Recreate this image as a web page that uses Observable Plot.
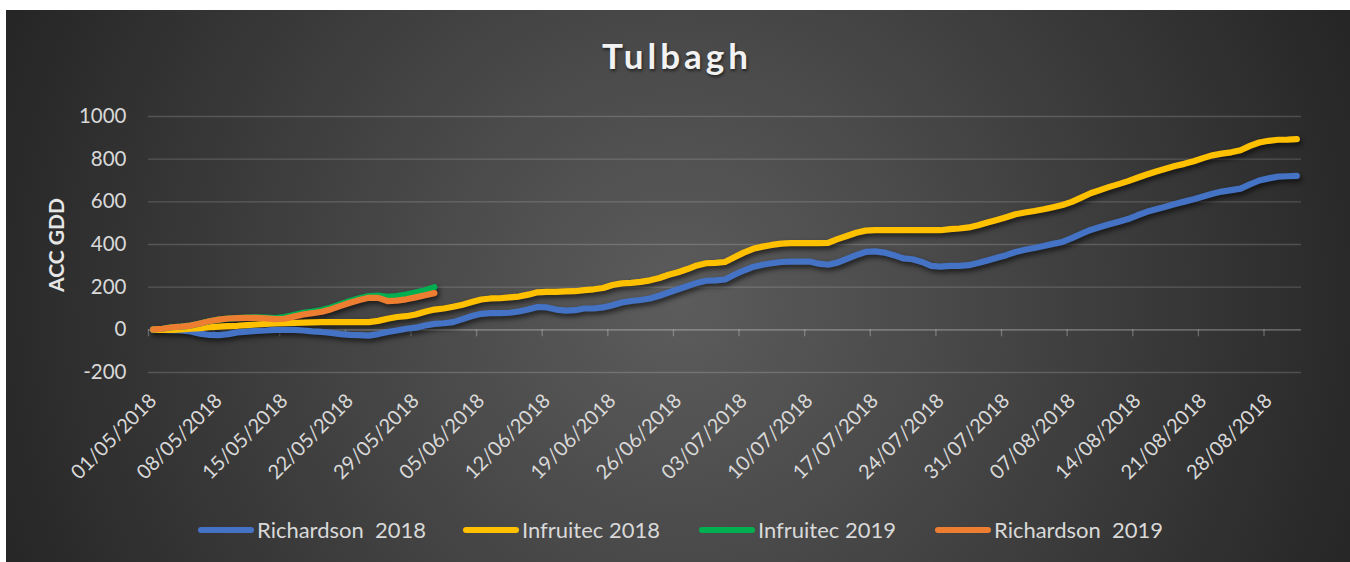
<!DOCTYPE html>
<html>
<head>
<meta charset="utf-8">
<script src="https://cdn.jsdelivr.net/npm/d3@7"></script>
<script src="https://cdn.jsdelivr.net/npm/@observablehq/plot@0.6"></script>
<style>
  body { margin: 0; background: #ffffff; }
  #page { position: relative; width: 1350px; height: 562px; overflow: hidden; background: #ffffff; font-family: Lato, "Open Sans", sans-serif; }
  #panel { position: absolute; left: 6px; top: 10px; width: 1344px; height: 552px;
    background: radial-gradient(circle 720px at 50% 53%, #5c5c5c 0%, #4a4a4a 35%, #262626 100%); }
  #chart { position: absolute; left: 0; top: 0; }
  #title { position: absolute; left: 0; width: 1350px; top: 38px; text-align: center; font-size: 35px; line-height: 35px;
    font-weight: 700; letter-spacing: 4px; text-indent: 4px; color: #f2f2f2; text-shadow: 1px 2px 3px rgba(0,0,0,0.55); }
  #ytitle { position: absolute; left: 55px; top: 245px; transform: translate(-50%, -50%) rotate(-90deg); font-size: 21px;
    font-weight: 700; color: #e6e6e6; white-space: nowrap; }
  .item { position: absolute; top: 519px; height: 22px; display: flex; align-items: center; font-size: 22px; line-height: 22px;
    color: #d9d9d9; white-space: pre; }
  .sw { display: inline-block; width: 56px; height: 6px; border-radius: 3px; margin-right: 3px; }
</style>
</head>
<body>
<div id="page">
  <div id="panel"></div>
  <div id="chart"></div>
  <div id="title">Tulbagh</div>
  <div id="ytitle">ACC GDD</div>
  <div id="legend"></div>
</div>
<script>
// ---- Data (accumulated growing degree days, daily from 01/05/2018) ----
const seriesNames = ["Richardson  2018", "Infruitec 2018", "Infruitec 2019", "Richardson  2019"];
const seriesColors = ["#4472C4", "#FFC000", "#00B050", "#ED7D31"];

const dateLabels = ["01/05/2018", "08/05/2018", "15/05/2018", "22/05/2018", "29/05/2018", "05/06/2018",
  "12/06/2018", "19/06/2018", "26/06/2018", "03/07/2018", "10/07/2018", "17/07/2018", "24/07/2018",
  "31/07/2018", "07/08/2018", "14/08/2018", "21/08/2018", "28/08/2018"];

const yTicks = [-200, 0, 200, 400, 600, 800, 1000];

const richardson2018 = [
  0, 0, -2, -3, -8, -18, -24, -25, -20, -12,
  -8, -5, -3, 0, 0, 0, -3, -7, -10, -14,
  -20, -24, -25, -27, -20, -10, -3, 5, 10, 20,
  28, 31, 36, 50, 65, 75, 78, 78, 80, 86,
  95, 107, 105, 95, 90, 92, 100, 100, 105, 115,
  128, 135, 140, 147, 160, 175, 190, 205, 220, 230,
  232, 236, 258, 278, 295, 305, 312, 318, 320, 320,
  320, 310, 305, 315, 333, 350, 365, 368, 362, 350,
  335, 331, 318, 300, 296, 300, 300, 303, 313, 325,
  338, 350, 365, 375, 384, 393, 403, 412, 430, 450,
  468, 482, 495, 507, 519, 537, 553, 565, 577, 590,
  601, 612, 625, 638, 648, 655, 662, 682, 700, 710,
  718, 720, 722];

const infruitec2018 = [
  0, 0, 0, 2, 5, 8, 12, 15, 17, 19,
  22, 25, 28, 30, 31, 32, 34, 35, 36, 36,
  36, 36, 36, 36, 42, 52, 60, 64, 72, 85,
  95, 100, 108, 118, 130, 142, 147, 148, 152, 156,
  165, 176, 178, 178, 180, 181, 186, 190, 196, 210,
  218, 220, 225, 232, 243, 258, 270, 285, 302, 312,
  314, 318, 340, 362, 380, 390, 398, 404, 406, 406,
  406, 406, 408, 425, 440, 455, 465, 467, 467, 467,
  467, 467, 467, 467, 467, 472, 475, 480, 490, 503,
  515, 528, 542, 550, 557, 565, 575, 585, 600, 620,
  640, 655, 670, 683, 697, 713, 728, 742, 755, 768,
  778, 790, 805, 818, 826, 832, 842, 862, 878, 886,
  891, 892, 894];

const infruitec2019 = [
  2, 5, 12, 15, 20, 30, 40, 48, 53, 55,
  57, 58, 57, 55, 60, 70, 80, 86, 93, 105,
  120, 135, 148, 158, 160, 155, 158, 165, 175, 186,
  200];

const richardson2019 = [
  2, 5, 12, 15, 20, 30, 40, 48, 53, 55,
  56, 56, 54, 50, 52, 62, 72, 78, 85, 97,
  112, 127, 140, 150, 150, 135, 137, 143, 152, 162,
  172];

// ---- Build long table ----
const seriesValues = [richardson2018, infruitec2018, infruitec2019, richardson2019];
const table = seriesValues.flatMap((vals, s) => vals.map((v, day) => ({series: seriesNames[s], day, value: v})));
const nDays = richardson2018.length;
const tickDays = dateLabels.map((_, k) => k * 7);
const boundaries = dateLabels.map((_, k) => k * 7 - 0.5);

const plot = Plot.plot({
  width: 1350,
  height: 562,
  marginLeft: 148,
  marginRight: 49,
  marginTop: 116,
  marginBottom: 190,
  style: {background: "transparent", color: "#d9d9d9", fontFamily: "Lato, 'Open Sans', sans-serif", fontSize: "20px", overflow: "visible"},
  x: {domain: [-0.5, nDays - 0.5], axis: null},
  y: {domain: [-200, 1000], axis: null},
  color: {domain: seriesNames, range: seriesColors},
  marks: [
    Plot.gridY(yTicks.filter(d => d !== 0), {stroke: "#ffffff", strokeOpacity: 0.17, strokeWidth: 1.4}),
    Plot.ruleY([0], {stroke: "#ffffff", strokeOpacity: 0.25, strokeWidth: 1.6}),
    Plot.ruleX(boundaries, {x: d => d, y1: 0, y2: 0, insetBottom: -7, stroke: "#ffffff", strokeOpacity: 0.25, strokeWidth: 1.4}),
    Plot.axisY(yTicks, {tickSize: 0, tickPadding: 22, fontSize: 20.5, fill: "#d9d9d9", label: null, tickFormat: d => String(d)}),
    Plot.axisX(tickDays, {tickFormat: d => dateLabels[d / 7], tickRotate: -45, tickSize: 0, tickPadding: 25, fontSize: 20, fill: "#d9d9d9", label: null}),
    Plot.line(table, {x: "day", y: "value", z: "series", stroke: "series", strokeWidth: 6.2, strokeLinecap: "round", strokeLinejoin: "round"})
  ]
});

d3.select(plot).selectAll('g[aria-label="line"]').style("filter", "drop-shadow(2px 3px 2.5px rgba(0,0,0,0.6))");
document.getElementById("chart").appendChild(plot);

// ---- Legend ----
const legendLeft = [198, 463, 699, 935];
const legend = d3.select("#legend");
seriesNames.forEach((name, i) => {
  const item = legend.append("div").attr("class", "item").style("left", legendLeft[i] + "px");
  item.append("span").attr("class", "sw").style("background", seriesColors[i]);
  item.append("span").text(name);
});
</script>
</body>
</html>
